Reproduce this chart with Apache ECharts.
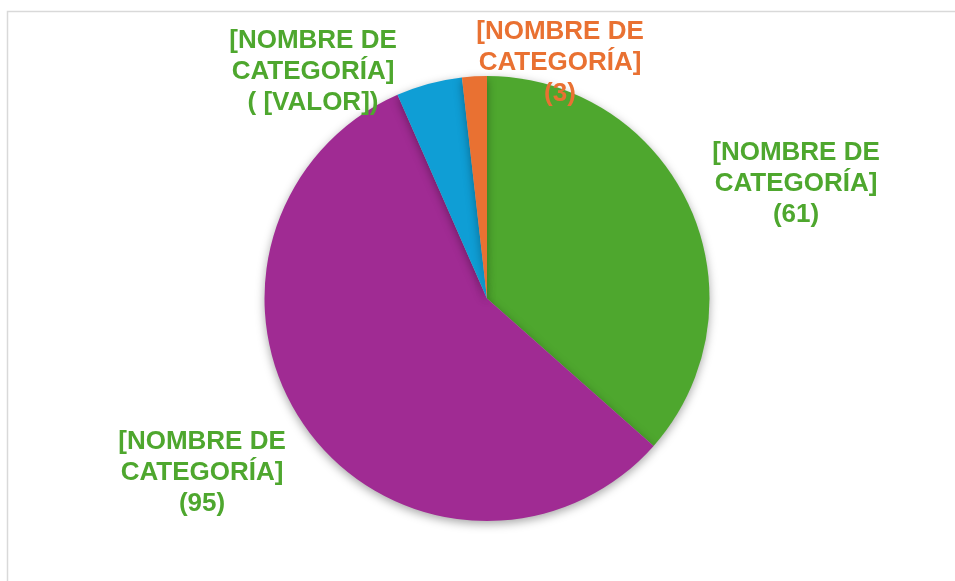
<!DOCTYPE html>
<html><head><meta charset="utf-8">
<script src="https://cdn.jsdelivr.net/npm/echarts@6/dist/echarts.min.js"></script>
<style>html,body{margin:0;padding:0;background:#fff}#c{width:955px;height:581px}</style>
</head><body><div id="c"></div>
<script>
const categories = ['[NOMBRE DE\nCATEGORÍA]', '[NOMBRE DE\nCATEGORÍA]', '[NOMBRE DE\nCATEGORÍA]', '[NOMBRE DE\nCATEGORÍA]'];
const values = [61, 95, 8, 3];
const valueTexts = ['(61)', '(95)', '( [VALOR])', '(3)'];
const colors = ['#4EA72E', '#A02B93', '#0F9ED5', '#E97132'];
const labelColors = ['#4EA72E', '#4EA72E', '#4EA72E', '#E97132'];
const labelPos = [[796, 184], [202, 473], [313, 72], [560, 63]];

const chart = echarts.init(document.getElementById('c'), null, {renderer: 'canvas'});
chart.setOption({
  animation: false,
  graphic: [{
    type: 'rect', shape: {x: 7.5, y: 11.5, width: 1000, height: 700},
    style: {fill: 'none', stroke: '#d9d9d9', lineWidth: 1.5}, silent: true
  }],
  series: [{
    type: 'pie',
    center: [487, 298.5],
    radius: [0, 222.5],
    startAngle: 90,
    clockwise: true,
    itemStyle: {shadowBlur: 10, shadowColor: 'rgba(0,0,0,0.35)', shadowOffsetY: 3, borderWidth: 0},
    label: {
      show: true,
      fontFamily: 'Liberation Sans, Arial, sans-serif',
      fontWeight: 'bold', fontSize: 26, lineHeight: 31,
      align: 'center'
    },
    labelLine: {show: false},
    labelLayout: function (p) {
      const pos = labelPos[p.dataIndex];
      return {x: pos[0], y: pos[1], align: 'center', verticalAlign: 'middle'};
    },
    data: values.map((v, i) => ({
      value: v, name: categories[i],
      itemStyle: {color: colors[i]},
      label: {color: labelColors[i], formatter: categories[i] + '\n' + valueTexts[i]}
    }))
  }]
});
</script></body></html>
